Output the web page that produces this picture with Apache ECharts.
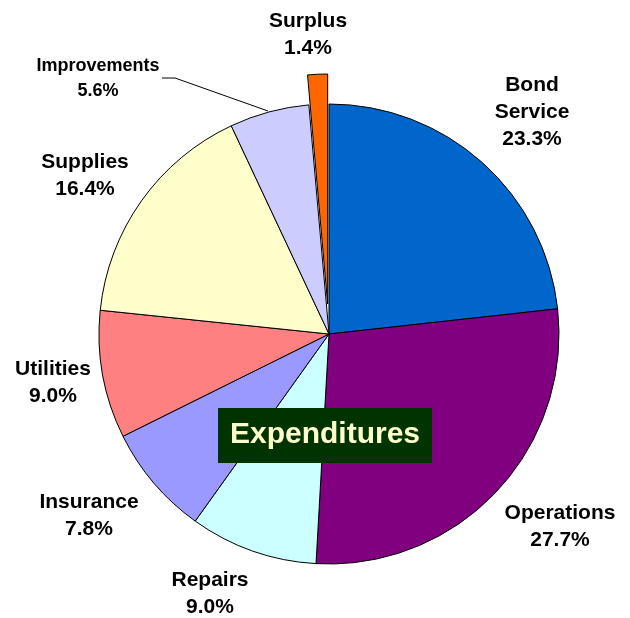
<!DOCTYPE html>
<html>
<head>
<meta charset="utf-8">
<script src="https://cdn.jsdelivr.net/npm/echarts@6/dist/echarts.min.js"></script>
<style>
html,body{margin:0;padding:0;background:#fff;}
#chart{width:630px;height:618px;}
</style>
</head>
<body>
<div id="chart"></div>
<script>
// ---- data ----
var categories = ['Bond\nService', 'Operations', 'Repairs', 'Insurance', 'Utilities', 'Supplies', 'Improvements', 'Surplus'];
var values = [23.3, 27.7, 9.0, 7.8, 9.0, 16.4, 5.6, 1.4];
var colors = ['#0066CC', '#800080', '#CCFFFF', '#9999FF', '#FF8080', '#FFFFCC', '#CCCCFF', '#FF6600'];
var titleText = 'Expenditures';
var explodedIndex = 7; // Surplus is pulled out of the pie

// layout
var CX = 329, CY = 334, R = 230, EXPLODE = 30;
var labelCenters = [[532, 112], [560, 527], [210, 594], [89, 516], [53, 383], [85, 176], [98, 79], [308, 35]];

// direction of the exploded slice (clockwise from 12 o'clock)
var total = values.reduce(function (a, b) { return a + b; }, 0);
var before = 0;
for (var k = 0; k < explodedIndex; k++) before += values[k];
var midAng = (before + values[explodedIndex] / 2) / total * 2 * Math.PI;
var ex = CX + EXPLODE * Math.sin(midAng);
var ey = CY - EXPLODE * Math.cos(midAng);

var fontFamily = 'Liberation Sans, Arial, sans-serif';

function buildData(showOnlyExploded) {
  return categories.map(function (c, i) {
    var visible = showOnlyExploded ? (i === explodedIndex) : (i !== explodedIndex);
    var item = {
      name: c,
      value: values[i],
      itemStyle: visible ? {color: colors[i]} : {color: 'rgba(0,0,0,0)', borderWidth: 0},
      label: {show: visible}
    };
    if (visible && c === 'Improvements') {
      item.label = {show: true, fontSize: 18, lineHeight: 25};
      item.labelLine = {show: true, lineStyle: {color: '#000', width: 1}};
    }
    return item;
  });
}

function baseSeries(center, d) {
  return {
    type: 'pie',
    center: center,
    radius: [0, R],
    startAngle: 90,
    clockwise: true,
    avoidLabelOverlap: false,
    emphasis: {disabled: true},
    silent: true,
    itemStyle: {borderColor: '#000', borderWidth: 1},
    label: {
      show: true,
      position: 'outside',
      formatter: function (p) { return p.name + '\n' + p.value.toFixed(1) + '%'; },
      color: '#000',
      fontSize: 21,
      lineHeight: 27,
      fontWeight: 'bold',
      fontFamily: fontFamily,
      align: 'center'
    },
    labelLine: {show: false},
    labelLayout: function (params) {
      var c = labelCenters[params.dataIndex];
      var res = {x: c[0], y: c[1], align: 'center', verticalAlign: 'middle'};
      if (params.dataIndex === 6) {
        res.labelLinePoints = [[162, 78], [175, 78], [268, 111]];
      }
      return res;
    },
    data: d
  };
}

var chart = echarts.init(document.getElementById('chart'), null, {renderer: 'canvas'});
chart.setOption({
  backgroundColor: '#fff',
  animation: false,
  title: {
    text: titleText,
    left: 218,
    top: 408,
    padding: [12, 12, 13, 12],
    backgroundColor: '#003300',
    textStyle: {
      color: '#FFFFCC',
      fontSize: 30,
      fontWeight: 'bold',
      fontFamily: fontFamily
    }
  },
  series: [
    baseSeries([CX, CY], buildData(false)),
    baseSeries([ex, ey], buildData(true))
  ]
});
</script>
</body>
</html>
